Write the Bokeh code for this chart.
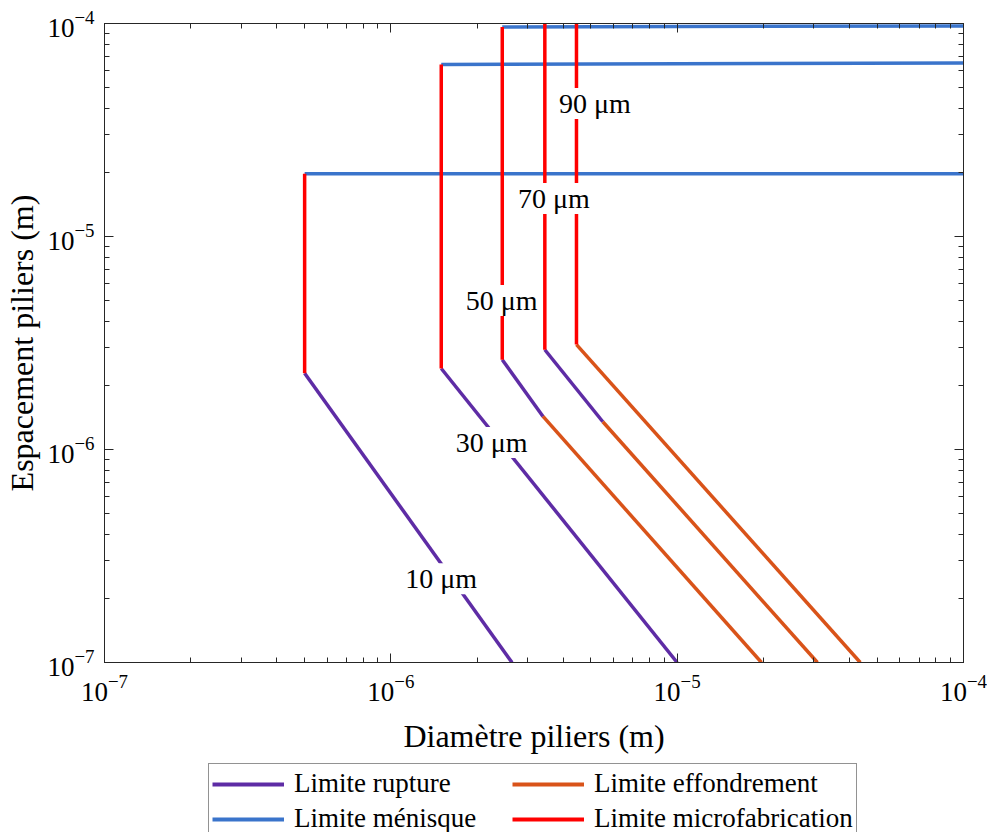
from bokeh.plotting import figure
from bokeh.layouts import column
from bokeh.models import LogAxis, LogTicker, Legend, LegendItem, LabelSet, ColumnDataSource, Range1d
from bokeh.core.properties import value
from bokeh.embed import file_html
from bokeh.resources import INLINE

# ---------------- data ----------------
# microfabrication limit (vertical red lines): diameter, bottom, top
micro_d = [5.0e-7, 1.5e-6, 2.45e-6, 3.45e-6, 4.45e-6]
micro_y_bot = [2.28e-6, 2.40e-6, 2.64e-6, 2.94e-6, 3.11e-6]
micro_y_top = [1.97e-5, 6.42e-5, 9.64e-5, 1.0e-4, 1.0e-4]

# meniscus limit (horizontal blue lines)
men_x0 = [5.0e-7, 1.5e-6, 2.45e-6]
men_y0 = [1.97e-5, 6.42e-5, 9.64e-5]
men_x1 = [1.0e-4, 1.0e-4, 1.0e-4]
men_y1 = [1.97e-5, 6.53e-5, 9.74e-5]

# rupture limit (purple)
rupt_x0 = [5.0e-7, 1.5e-6, 2.45e-6, 3.45e-6]
rupt_y0 = [2.28e-6, 2.40e-6, 2.64e-6, 2.94e-6]
rupt_x1 = [2.65e-6, 1.0e-5, 3.40e-6, 5.5e-6]
rupt_y1 = [1.0e-7, 1.0e-7, 1.43e-6, 1.35e-6]

# collapse limit (orange)
eff_x0 = [3.40e-6, 5.5e-6, 4.45e-6]
eff_y0 = [1.43e-6, 1.35e-6, 3.11e-6]
eff_x1 = [1.97e-5, 3.09e-5, 4.36e-5]
eff_y1 = [1.0e-7, 1.0e-7, 1.0e-7]

# curve labels
lab_text = ["10 μm", "30 μm", "50 μm", "70 μm", "90 μm"]
lab_x = [1.5e-6, 2.25e-6, 2.44e-6, 3.71e-6, 5.16e-6]
lab_y = [2.47e-7, 1.08e-6, 5.01e-6, 1.51e-5, 4.21e-5]

legend_labels = ["Limite rupture", "Limite ménisque",
                 "Limite effondrement", "Limite microfabrication"]

PURPLE = "#5E2CA5"
BLUE = "#3A74CB"
ORANGE = "#D95319"
RED = "#FF0000"
AX = "#262626"
FONT = "Liberation Serif"
LW = 3.5

p = figure(width=987, height=760, x_axis_type="log", y_axis_type="log",
           x_range=(1e-7, 1e-4), y_range=(1e-7, 1e-4),
           output_backend="svg", toolbar_location=None,
           min_border_left=104, min_border_right=24, min_border_top=23,
           min_border_bottom=98, background_fill_color="white",
           border_fill_color="white", outline_line_color=AX)
p.xgrid.visible = False
p.ygrid.visible = False

p.segment(x0=rupt_x0, y0=rupt_y0, x1=rupt_x1, y1=rupt_y1,
          line_color=PURPLE, line_width=LW)
p.segment(x0=eff_x0, y0=eff_y0, x1=eff_x1, y1=eff_y1,
          line_color=ORANGE, line_width=LW)
p.segment(x0=men_x0, y0=men_y0, x1=men_x1, y1=men_y1,
          line_color=BLUE, line_width=LW)
p.segment(x0=micro_d, y0=micro_y_bot, x1=micro_d, y1=micro_y_top,
          line_color=RED, line_width=LW)

src = ColumnDataSource(dict(x=lab_x, y=lab_y, text=lab_text))
labels = LabelSet(x="x", y="y", text="text", source=src,
                  text_align="center", text_baseline="middle",
                  text_font=value(FONT), text_font_size="28px",
                  text_color="black",
                  background_fill_color="white", background_fill_alpha=1.0)
p.add_layout(labels)


def style_axis(ax, show_labels=True):
    ax.axis_line_color = AX
    ax.axis_line_width = 1
    ax.major_tick_line_color = AX
    ax.minor_tick_line_color = AX
    ax.major_tick_in = 9
    ax.major_tick_out = 0
    ax.minor_tick_in = 5
    ax.minor_tick_out = 0
    ax.major_label_text_font = FONT
    if show_labels:
        ax.major_label_text_font_size = "27px"
        ax.major_label_text_color = "black"
    else:
        ax.major_label_text_font_size = "1px"
        ax.major_label_text_color = None
        ax.major_label_standoff = 0


xa = p.xaxis[0]
ya = p.yaxis[0]
xa.ticker = LogTicker(num_minor_ticks=10)
ya.ticker = LogTicker(num_minor_ticks=10)
style_axis(xa)
style_axis(ya)
xa.major_label_standoff = 12
ya.major_label_standoff = 10
xa.axis_label = "Diamètre piliers (m)"
ya.axis_label = "Espacement piliers (m)"
for ax in (xa, ya):
    ax.axis_label_text_font = FONT
    ax.axis_label_text_font_size = "32px"
    ax.axis_label_text_font_style = "normal"
    ax.axis_label_text_color = "black"
xa.axis_label_standoff = 14
ya.axis_label_standoff = 4

top = LogAxis(ticker=LogTicker(num_minor_ticks=10))
right = LogAxis(ticker=LogTicker(num_minor_ticks=10))
style_axis(top, False)
style_axis(right, False)
p.add_layout(top, "above")
p.add_layout(right, "right")

# ---- legend strip below the axes ----
lg = figure(width=987, height=72, x_range=Range1d(0, 1), y_range=Range1d(0, 1),
            output_backend="svg", toolbar_location=None,
            x_axis_location=None, y_axis_location=None,
            min_border_left=0, min_border_right=0, min_border_top=0,
            min_border_bottom=0, outline_line_color=None,
            background_fill_color="white", border_fill_color="white")
lg.xgrid.visible = False
lg.ygrid.visible = False
nan = float("nan")
proxies = [lg.line(x=[nan], y=[nan], line_color=c, line_width=4)
           for c in (PURPLE, BLUE, ORANGE, RED)]
legend = Legend(items=[LegendItem(label=t, renderers=[r])
                       for t, r in zip(legend_labels, proxies)],
                location=(104, -7), orientation="vertical", nrows=2,
                glyph_width=72, glyph_height=20, label_standoff=10,
                label_width=216,
                label_text_font=FONT, label_text_font_size="27px",
                label_text_color="black", label_height=33,
                padding=3, spacing=2, margin=0,
                border_line_color=AX, border_line_width=1,
                background_fill_color="white", background_fill_alpha=1.0)
lg.add_layout(legend)

layout = column(p, lg, spacing=0)
open("out.html", "w").write(file_html(layout, INLINE))
